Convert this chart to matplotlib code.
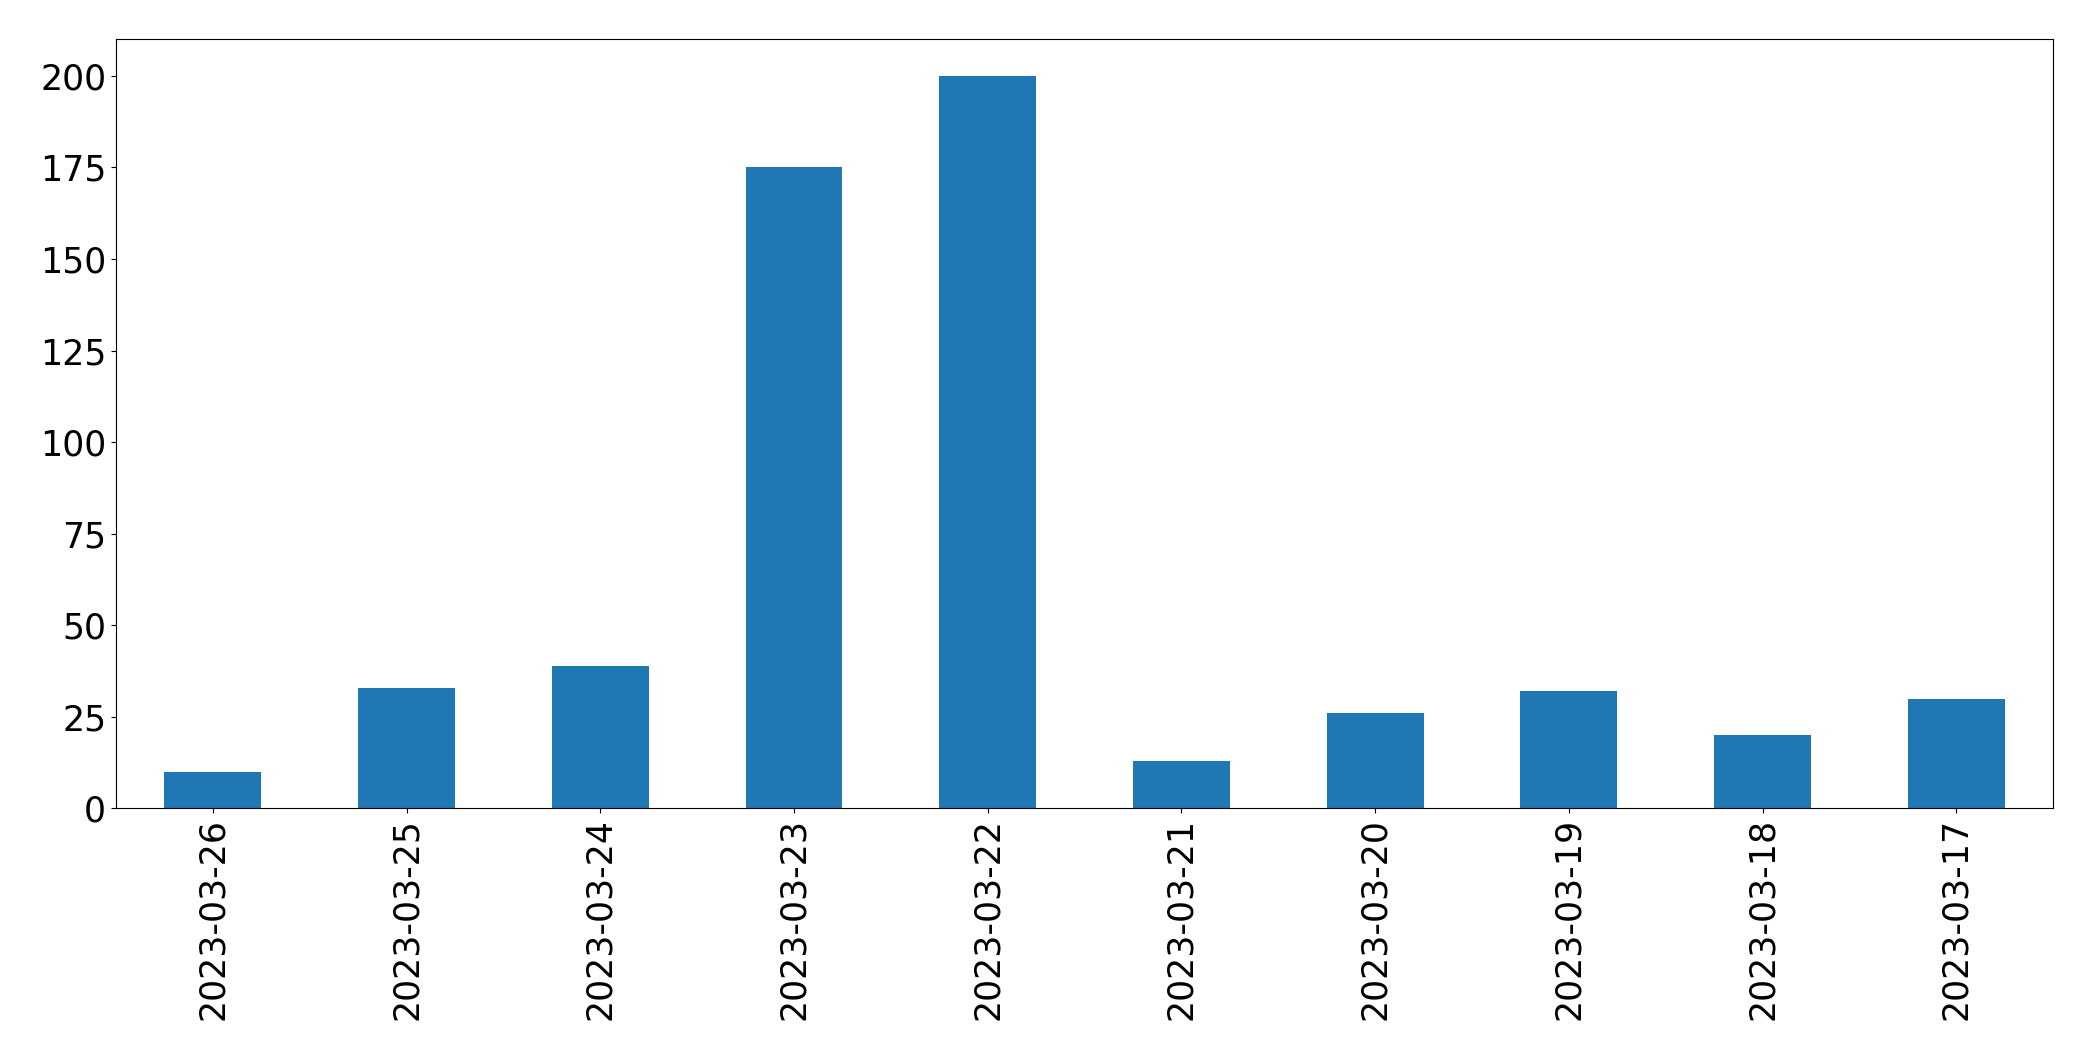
import matplotlib
matplotlib.use("Agg")
import matplotlib.pyplot as plt

dates = ["2023-03-26", "2023-03-25", "2023-03-24", "2023-03-23", "2023-03-22",
         "2023-03-21", "2023-03-20", "2023-03-19", "2023-03-18", "2023-03-17"]
counts = [10, 33, 39, 175, 200, 13, 26, 32, 20, 30]

fig = plt.figure(figsize=(20.93, 10.61), dpi=100)
ax = fig.add_axes([0.0554, 0.238, 0.9256, 0.725])
x = list(range(len(dates)))
ax.bar(x, counts, width=0.5, color="#1f77b4")
ax.set_xlim(-0.5, len(dates) - 0.5)
ax.set_ylim(0, 210)
ax.set_xticks(x)
ax.set_xticklabels(dates, rotation=90)
ax.set_yticks([0, 25, 50, 75, 100, 125, 150, 175, 200])
ax.tick_params(labelsize=25)
fig.savefig("out.png", dpi=100)
